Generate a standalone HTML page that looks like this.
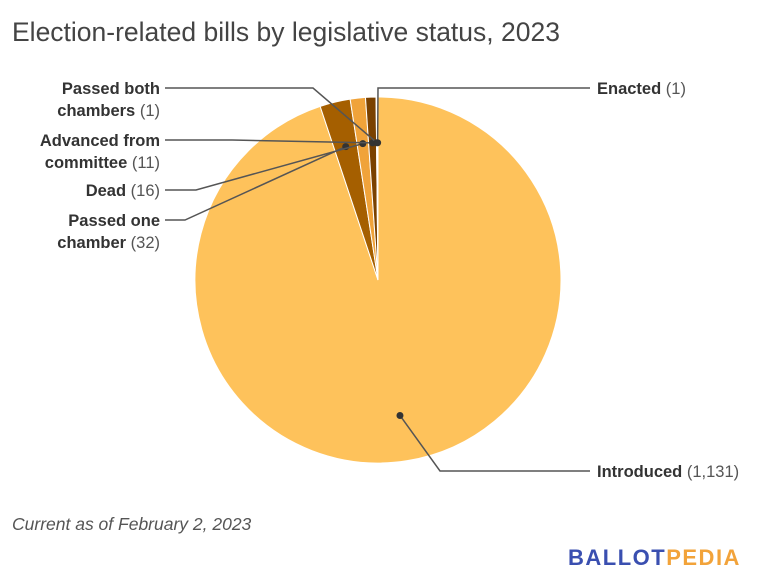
<!DOCTYPE html>
<html><head><meta charset="utf-8"><style>
body{margin:0;background:#fff;width:757px;height:583px;overflow:hidden;font-family:"Liberation Sans",sans-serif}
</style></head><body>
<svg width="757" height="583">
<text x="12" y="41" font-size="26.5" fill="#444">Election-related bills by legislative status, 2023</text>
<g id="pie"></g>
<g id="labels"></g>
<text x="12" y="530" font-size="17.5" font-style="italic" fill="#555">Current as of February 2, 2023</text>
<text x="568" y="565" font-size="22" font-weight="bold" letter-spacing="1.5"><tspan fill="#3a4fb0">BALLOT</tspan><tspan fill="#f2a33a">PEDIA</tspan></text>
</svg>
<script>
const categories=["Introduced","Passed one chamber","Dead","Advanced from committee","Passed both chambers","Enacted"];
const values=[1131,32,16,11,1,1];
const colors=["#fec25b","#a55f00","#f0a33a","#7a4100","#5a3000","#c07000"];
const cx=378,cy=280,R=183;
const total=values.reduce((a,b)=>a+b,0);
const NS="http://www.w3.org/2000/svg";
function pt(a,r){const t=a*Math.PI/180;return [cx+r*Math.sin(t),cy-r*Math.cos(t)];}
const pie=document.getElementById('pie'),lg=document.getElementById('labels');
let a0=0;const mids=[];
values.forEach((v,i)=>{
 const a1=a0+v/total*360;
 const p0=pt(a0,R),p1=pt(a1,R);
 const p=document.createElementNS(NS,'path');
 p.setAttribute('d',`M${cx},${cy}L${p0[0]},${p0[1]}A${R},${R} 0 ${a1-a0>180?1:0} 1 ${p1[0]},${p1[1]}Z`);
 p.setAttribute('fill',colors[i]);p.setAttribute('stroke','#fff');p.setAttribute('stroke-width','1');
 
 
 pie.appendChild(p);
 mids.push((a0+a1)/2);a0=a1;
});
const lay=[
 {t:["Introduced"],c:"(1,131)",x:597,y:477,anc:"start",pts:[[590,471],[440,471]]},
 {t:["Passed one","chamber"],c:"(32)",x:160,y:226,anc:"end",pts:[[165,220],[185,220]]},
 {t:["Dead"],c:"(16)",x:160,y:196,anc:"end",pts:[[165,190],[196,190]]},
 {t:["Advanced from","committee"],c:"(11)",x:160,y:146,anc:"end",pts:[[165,140],[232,140]]},
 {t:["Passed both","chambers"],c:"(1)",x:160,y:94,anc:"end",pts:[[165,88],[313,88]]},
 {t:["Enacted"],c:"(1)",x:597,y:94,anc:"start",pts:[[590,88],[378,88]]}
];
lay.forEach((L,i)=>{
 const d=pt(mids[i],R*0.75);
 const pl=document.createElementNS(NS,'polyline');
 pl.setAttribute('points',L.pts.map(p=>p.join(',')).join(' ')+' '+d.join(','));
 pl.setAttribute('fill','none');pl.setAttribute('stroke','#555');pl.setAttribute('stroke-width','1.5');
 
 
 lg.appendChild(pl);
 const c=document.createElementNS(NS,'circle');
 c.setAttribute('cx',d[0]);c.setAttribute('cy',d[1]);c.setAttribute('r',3.5);c.setAttribute('fill','#333');
 
 
 lg.appendChild(c);
 const tx=document.createElementNS(NS,'text');
 tx.setAttribute('text-anchor',L.anc);tx.setAttribute('font-size','16.5');tx.setAttribute('fill','#333');
 
 
 L.t.forEach((s,j)=>{
  const ts=document.createElementNS(NS,'tspan');
  ts.setAttribute('x',L.x);ts.setAttribute('y',L.y+j*22);
  ts.setAttribute('font-weight','bold');
  ts.textContent=(j===L.t.length-1)?s+' ':s;
  tx.appendChild(ts);
  if(j===L.t.length-1){
   const cs=document.createElementNS(NS,'tspan');cs.setAttribute('fill','#555');cs.textContent=L.c;tx.appendChild(cs);
  }
 });
 lg.appendChild(tx);
});
</script>
</body></html>
